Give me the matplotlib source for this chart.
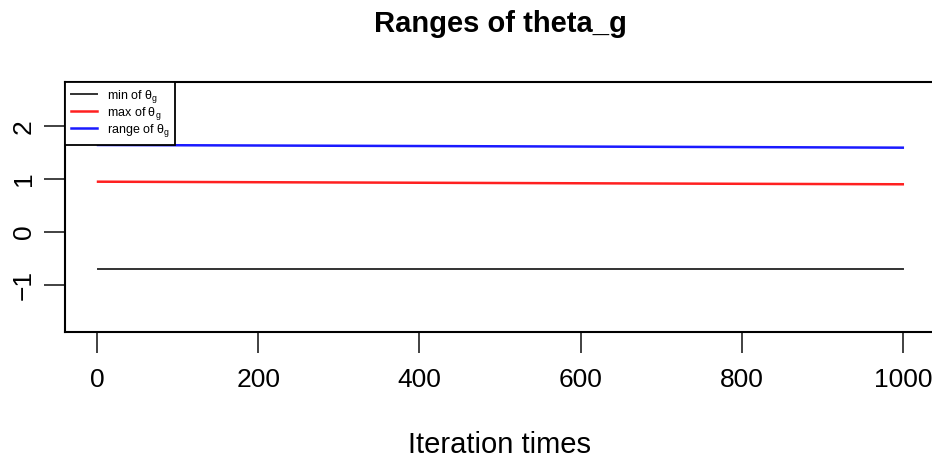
import matplotlib
matplotlib.use('Agg')
import matplotlib.pyplot as plt
import numpy as np

plt.rcParams['font.family'] = ['Liberation Sans', 'DejaVu Sans']
plt.rcParams['mathtext.fontset'] = 'custom'
plt.rcParams['mathtext.rm'] = 'Liberation Sans'
plt.rcParams['mathtext.it'] = 'Liberation Sans:italic'

# values
iters = [1, 200, 400, 600, 800, 1000]
theta_min = [-0.705, -0.705, -0.705, -0.705, -0.705, -0.705]
theta_max = [0.951, 0.941, 0.931, 0.921, 0.911, 0.902]
theta_range = [1.645, 1.635, 1.625, 1.615, 1.605, 1.594]

x_ticks = [0, 200, 400, 600, 800, 1000]
y_ticks = [-1, 0, 1, 2]

fig = plt.figure(figsize=(9.32, 4.61), dpi=100)
ax = fig.add_axes([65 / 932, 1 - 331.7 / 461, 870 / 932, (331.7 - 82.3) / 461])

ax.plot(iters, theta_min, color='#333333', lw=1.4, label=r'min of θ$_{\mathregular{g}}$')
ax.plot(iters, theta_max, color='#ff2020', lw=1.8, label=r'max of θ$_{\mathregular{g}}$')
ax.plot(iters, theta_range, color='#1a1aff', lw=1.8, label=r'range of θ$_{\mathregular{g}}$')

ax.set_xlim(-40, 1040)
ax.set_ylim(-1.885, 2.83)
ax.set_xticks(x_ticks)
ax.set_yticks(y_ticks)
ax.set_yticklabels([str(v).replace('-', '\u2212') for v in y_ticks], rotation=90, va='center')
ax.tick_params(axis='both', labelsize=19, length=15, width=1.3, color='#333333')
ax.tick_params(axis='x', pad=11)
ax.tick_params(axis='y', pad=6)
for s in ax.spines.values():
    s.set_linewidth(1.5)

ax.set_title('Ranges of theta_g', fontsize=21, fontweight='bold', pad=36)
ax.set_xlabel('Iteration times', fontsize=21, labelpad=28)

leg = ax.legend(loc='upper left', bbox_to_anchor=(0, 1), borderaxespad=0,
                fontsize=9, fancybox=False, edgecolor='black', framealpha=1,
                handlelength=2.1, handletextpad=0.8, labelspacing=0.0,
                borderpad=0.45)
leg.get_frame().set_linewidth(1.3)

fig.savefig('out.png', dpi=100)
